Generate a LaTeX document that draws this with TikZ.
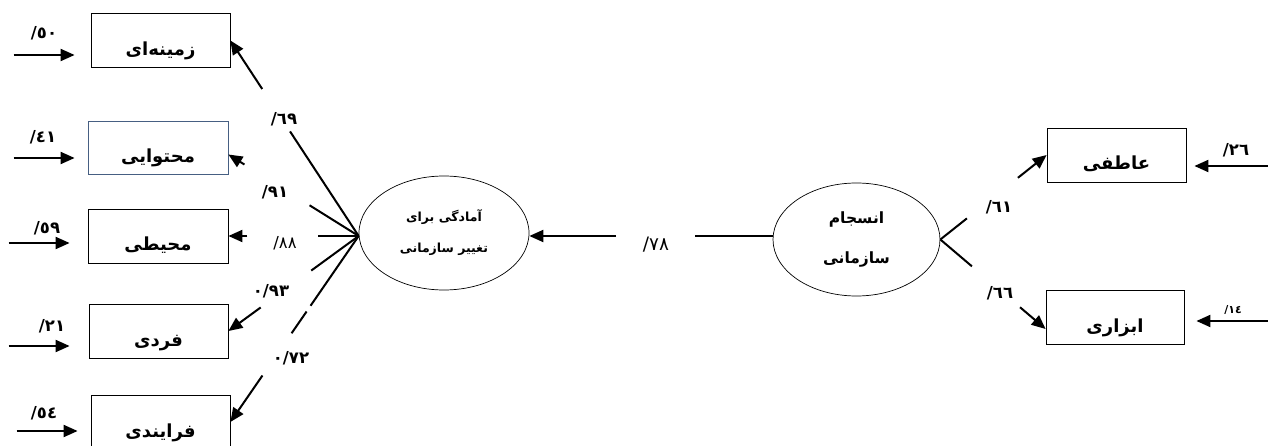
\documentclass[tikz,border=0pt]{standalone}
\usepackage{fontspec}
\TeXXeTstate=1
\newfontfamily\arabicfont[Script=Arabic]{DejaVu Sans}
\usetikzlibrary{arrows.meta,shapes.geometric,calc}
\definecolor{boxblue}{RGB}{70,95,130}
\newcommand{\slsh}{\hbox{/}}
\begin{document}
\begin{tikzpicture}[x=1pt,y=-1pt,
  box/.style={draw, line width=0.8pt, minimum width=139pt, minimum height=54pt, inner sep=0pt,
    text height=30pt, text depth=0pt, font={\arabicfont\bfseries\fontsize{18}{20}\selectfont}},
  ell/.style={ellipse, draw, line width=0.7pt, inner sep=0pt, align=center},
  ln/.style={line width=2pt},
  arr/.style={line width=2pt, -{Triangle[length=14pt,width=12pt]}},
  lbl/.style={inner sep=0pt, font={\arabicfont\bfseries\fontsize{16.5}{18}\selectfont}},
  lblr/.style={inner sep=0pt, font={\arabicfont\fontsize{16.5}{18}\selectfont}}]
\useasboundingbox (0,0) rectangle (1268,446);

% observed variables
\node[box] (A) at (160.5,40.5) {\beginR زمینه‌ای\endR};
\node[box, draw=boxblue, minimum width=140pt, minimum height=53pt] (B) at (158,147.5) {\beginR محتوایی\endR};
\node[box, minimum width=140pt] (C) at (158,236) {\beginR محیطی\endR};
\node[box] (D) at (158.5,331) {\beginR فردی\endR};
\node[box] (E) at (160.5,422) {\beginR فرایندی\endR};
\node[box] (F) at (1116.5,155) {\beginR عاطفی\endR};
\node[box, minimum width=138pt] (G) at (1115,317) {\beginR ابزاری\endR};

% latent variables
\node[ell, minimum width=170pt, minimum height=114pt,
  font={\arabicfont\bfseries\fontsize{12.5}{31}\selectfont}] (L) at (444,233)
  {\beginR آمادگی برای\endR\\\beginR تغییر سازمانی\endR};
\node[ell, minimum width=167pt, minimum height=113pt,
  font={\arabicfont\bfseries\fontsize{15.5}{40}\selectfont}] (R) at (856.5,239.5)
  {\beginR انسجام\endR\\\beginR سازمانی\endR};

% helper points
\coordinate (P) at ([yshift=-3pt]L.west);
\coordinate (Bt) at ([yshift=-7pt]B.east);
\coordinate (Rw) at ([yshift=3.5pt]R.west);
\coordinate (Le) at (L.east |- Rw);
\coordinate (Gt) at ([yshift=-12pt]G.west);

% loadings of the left latent variable
\draw[ln] (P) -- ($(P)!0.535!(A.east)$);
\draw[arr] ($(P)!0.752!(A.east)$) -- (A.east);
\draw[ln] (P) -- ($(P)!0.377!(Bt)$);
\draw[arr] ($(P)!0.877!(Bt)$) -- (Bt);
\draw[ln] (P) -- ($(P)!0.315!(C.east)$);
\draw[arr] ($(P)!0.854!(C.east)$) -- (C.east);
\draw[ln] (P) -- ($(P)!0.364!(D.east)$);
\draw[arr] ($(P)!0.752!(D.east)$) -- (D.east);
\draw[ln] (P) -- ($(P)!0.375!(E.east)$);
\draw[ln] ($(P)!0.406!(E.east)$) -- ($(P)!0.523!(E.east)$);
\draw[arr] ($(P)!0.75!(E.east)$) -- (E.east);

% path between the latent variables
\draw[ln] (Rw) -- ($(Rw)!0.32!(Le)$);
\draw[arr] ($(Rw)!0.643!(Le)$) -- (Le);

% loadings of the right latent variable
\draw[ln] (R.east) -- ($(R.east)!0.25!(F.west)$);
\draw[arr] ($(R.east)!0.73!(F.west)$) -- (F.west);
\draw[ln] (R.east) -- ($(R.east)!0.30!(Gt)$);
\draw[arr] ($(R.east)!0.757!(Gt)$) -- (Gt);

% error terms
\draw[arr] ([xshift=-77pt,yshift=-14.5pt]A.west) -- ([xshift=-16pt,yshift=-14.5pt]A.west);
\draw[arr] ([xshift=-74pt,yshift=-10.5pt]B.west) -- ([xshift=-13pt,yshift=-10.5pt]B.west);
\draw[arr] ([xshift=-79pt,yshift=-7pt]C.west) -- ([xshift=-18pt,yshift=-7pt]C.west);
\draw[arr] ([xshift=-80pt,yshift=-15pt]D.west) -- ([xshift=-19pt,yshift=-15pt]D.west);
\draw[arr] ([xshift=-74pt,yshift=-9pt]E.west) -- ([xshift=-13pt,yshift=-9pt]E.west);
\draw[arr] ([xshift=82pt,yshift=-11pt]F.east) -- ([xshift=8pt,yshift=-11pt]F.east);
\draw[arr] ([xshift=84pt,yshift=-4pt]G.east) -- ([xshift=12pt,yshift=-4pt]G.east);

% labels
\node[lbl] (e1) at (44,33) {\slsh٥٠};
\node[lbl] (e2) at (43,137) {\slsh٤١};
\node[lbl] (e3) at (47,228) {\slsh٥٩};
\node[lbl] (e4) at (52,326) {\slsh٢١};
\node[lbl] (e5) at (44,413) {\slsh٥٤};
\node[lbl] (e6) at (1236,150) {\slsh٢٦};
\node[lbl, font={\arabicfont\bfseries\fontsize{11}{13}\selectfont}] (e7) at (1233,310) {\slsh١٤};
\node[lbl] (k1) at (284,119) {\slsh٦٩};
\node[lbl] (k2) at (275,192) {\slsh٩١};
\node[lblr] (k3) at (285,243) {\slsh٨٨};
\node[lbl] (k4) at (271,291) {٠\slsh٩٣};
\node[lbl] (k5) at (291,358) {٠\slsh٧٢};
\node[lblr, font={\arabicfont\fontsize{18.5}{20}\selectfont}] (k6) at (656,245) {\slsh٧٨};
\node[lbl] (k7) at (999,207) {\slsh٦١};
\node[lbl] (k8) at (1000,293) {\slsh٦٦};
\end{tikzpicture}
\end{document}
